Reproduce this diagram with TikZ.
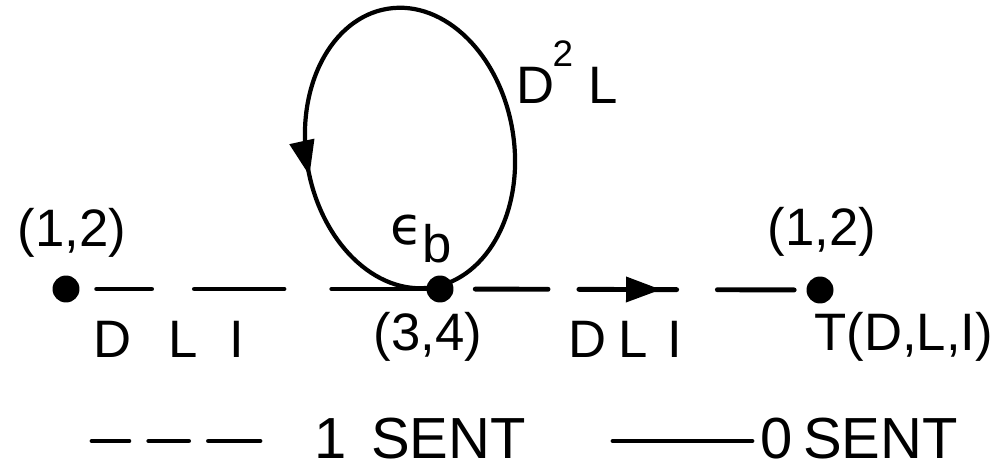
\documentclass[tikz,border=0pt]{standalone}
\usepackage{fontspec}
\setmainfont{Liberation Sans}
\newfontfamily\djv{DejaVu Sans}
\usetikzlibrary{arrows.meta,decorations.markings}
\begin{document}
\begin{tikzpicture}[x=0.02cm,y=-0.02cm,
  dot/.style={circle,fill=black,inner sep=0pt,minimum size=0.54cm},
  lbl/.style={inner sep=0pt,font=\fontsize{30}{32}\selectfont},
  leg/.style={inner sep=0pt,font=\fontsize{33}{35}\selectfont},
  wire/.style={line width=2.8pt,line cap=round},
  looppath/.style={line width=2.4pt},
  headtip/.tip={Triangle[length=20pt,width=14pt]}
]
\useasboundingbox (0,0) rectangle (1002,470);
% nodes
\node[dot] (L) at (66,289) {};
\node[dot] (M) at (440,289) {};
\node[dot] (R) at (820,290) {};
% connectors
\draw[wire, dash pattern=on 31.2pt off 24.4pt on 51pt off 27.2pt on 200pt off 9.6pt, dash phase=333.8pt] (L) -- (M);
\draw[wire, dash pattern=on 41.4pt off 17.6pt on 55.6pt off 23.2pt on 43.7pt off 62.2pt, dash phase=231.5pt,
  postaction={decorate}, decoration={markings, mark=at position 118pt with {\arrow{headtip}}}] (M) -- (R);
% self loop
\coordinate (lb) at (432.1,287.3);
\draw[looppath, postaction={decorate}, decoration={markings, mark=at position 0.765 with {\arrow{headtip}}}]
  (lb) .. controls (488.8,278.3) and (524.9,208.6) .. (512.7,131.7)
       .. controls (500.5,54.8) and (444.6,-0.3) .. (387.9,8.7)
       .. controls (331.2,17.7) and (295.1,87.4) .. (307.3,164.3)
       .. controls (319.5,241.2) and (375.4,296.3) .. (lb);
% labels
\node[lbl] (l12) at (72,233) {(1,2)};
\node[lbl] (r12) at (822,232) {(1,2)};
\node[lbl, anchor=west] (dli1) at (93,339) {D\hspace{21pt}L\hspace{18pt}I};
\node[lbl] (m34) at (428,337) {(3,4)};
\node[lbl, anchor=west] (dli2) at (568,339) {D\hspace{7pt}L\hspace{11pt}I};
\node[lbl, anchor=west] (tdli) at (814,337) {T(D,L,I)};
\node[lbl] (eb) at (421,239) {{\djv ϵ}\raisebox{-10pt}{b}};
\node[lbl, anchor=base west] (d2l) at (516,103) {D\kern-1pt\raisebox{21pt}{\fontsize{21}{21}\selectfont 2}\hspace{9pt}L};
% legend
\coordinate (d1) at (92,441);
\coordinate (d2) at (260,441);
\draw[wire, dash pattern=on 21pt off 11.3pt on 22.7pt off 11.3pt on 40pt] (d1) -- (d2);
\node[leg, anchor=west] (s1) at (314,439) {1\hspace{14pt}SENT};
\coordinate (o1) at (613,441);
\coordinate (o2) at (752,441);
\draw[wire] (o1) -- (o2);
\node[leg, anchor=west] (s0) at (760,439) {0\hspace{6pt}SENT};
\end{tikzpicture}
\end{document}
